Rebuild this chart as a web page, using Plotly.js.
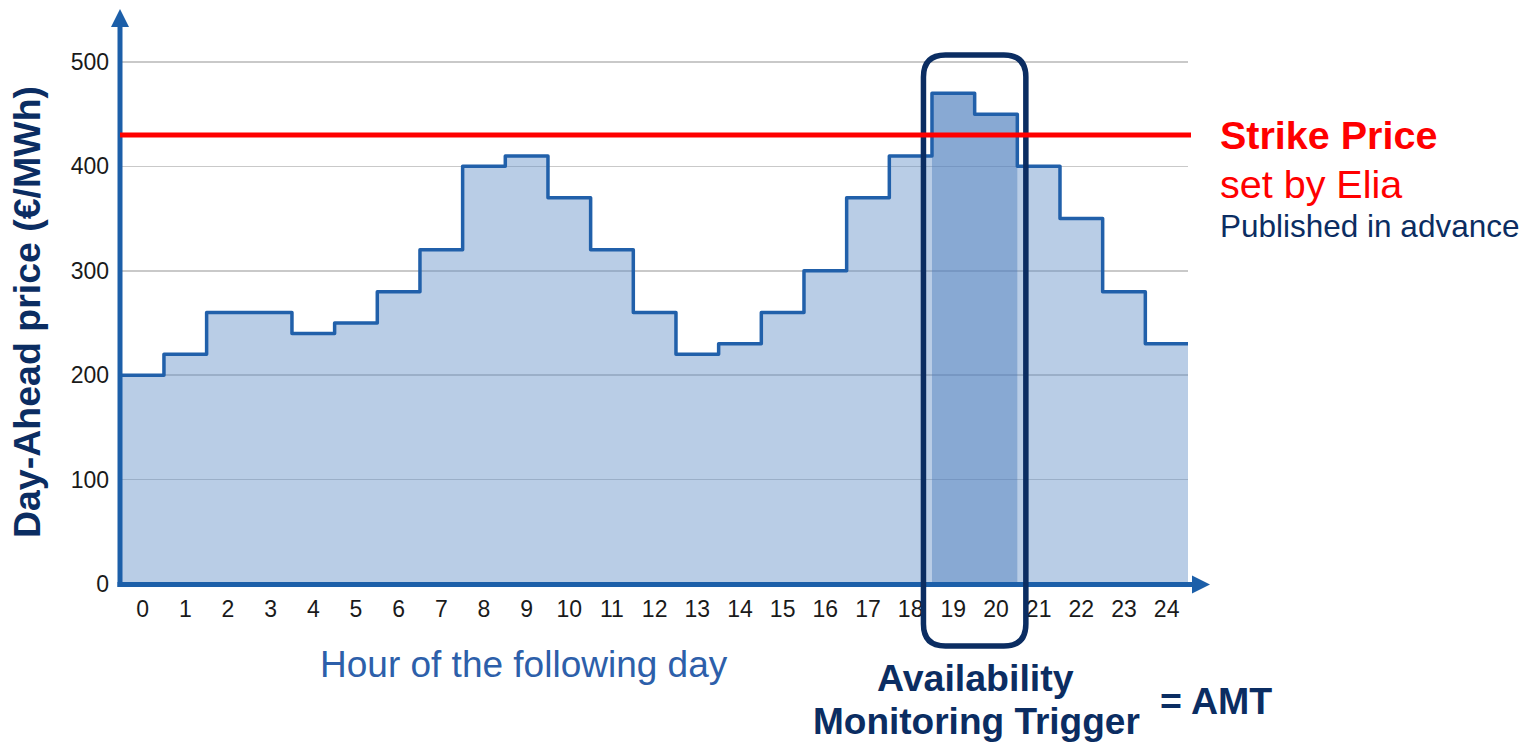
<!DOCTYPE html>
<html>
<head>
<meta charset="utf-8">
<script src="https://cdn.plot.ly/plotly-3.0.1.min.js"></script>
<style>
html,body{margin:0;padding:0;background:#fff;}
#chart{width:1523px;height:745px;}
.js-line{stroke-linejoin:round;}
</style>
</head>
<body>
<div id="chart"></div>
<script>
// ---- data ----
const hours = [0,1,2,3,4,5,6,7,8,9,10,11,12,13,14,15,16,17,18,19,20,21,22,23,24];
const prices = [200,220,260,260,240,250,280,320,400,410,370,320,260,220,230,260,300,370,410,470,450,400,350,280,230];
const tickLabels = ["0","1","2","3","4","5","6","7","8","9","10","11","12","13","14","15","16","17","18","19","20","21","22","23","24"];
const yTicks = [0,100,200,300,400,500];
const strikePrice = 430;
const amtHours = [19,20];

// ---- styling ----
const NAVY = '#0b2d62';
const AXIS_BLUE = '#1c5fa9';
const LINE_BLUE = '#2160aa';
const FONT = 'Liberation Sans, Arial, sans-serif';

const W = 1523, H = 745;
const M = {l:120, r:335, t:40, b:161};
const plotW = W - M.l - M.r, plotH = H - M.t - M.b;
const xRange = [-0.53, 24.5];
const yRange = [0, 521];

// pixel -> paper helpers for decorations
const pX = p => (p - M.l) / plotW;
const pY = p => (H - M.b - p) / plotH;
const dX = x => (x - xRange[0]) / (xRange[1] - xRange[0]);

// step traces built from data
const stepX = hours.map(h => h - 0.5).concat([hours[hours.length-1] + 0.5]);
const stepY = prices.concat([prices[prices.length-1]]);
const amtX = amtHours.map(h => h - 0.5).concat([amtHours[amtHours.length-1] + 0.5]);
const amtY = amtHours.map(h => prices[hours.indexOf(h)]).concat([prices[hours.indexOf(amtHours[amtHours.length-1])]]);

const traces = [
  {x: stepX, y: stepY, type:'scatter', mode:'lines', line:{shape:'hv', width:0, color:'rgba(0,0,0,0)'},
   fill:'tozeroy', fillcolor:'rgba(100,145,200,0.45)', hoverinfo:'skip', showlegend:false},
  {x: amtX, y: amtY, type:'scatter', mode:'lines', line:{shape:'hv', width:0, color:'rgba(0,0,0,0)'},
   fill:'tozeroy', fillcolor:'rgba(70,120,185,0.42)', hoverinfo:'skip', showlegend:false},
  {x: stepX, y: stepY, type:'scatter', mode:'lines', line:{shape:'hv', width:3.5, color:LINE_BLUE},
   showlegend:false, name:'Day-Ahead price'}
];

// rounded rectangle around AMT hours
const rL = dX(amtHours[0] - 0.7), rR = dX(amtHours[amtHours.length-1] + 0.7);
const rT = pY(55), rB = pY(646);
const rx = 22 / plotW, ry = 22 / plotH;
const rectPath = `M ${rL},${rT-ry} L ${rL},${rB+ry} Q ${rL},${rB} ${rL+rx},${rB} L ${rR-rx},${rB} Q ${rR},${rB} ${rR},${rB+ry} L ${rR},${rT-ry} Q ${rR},${rT} ${rR-rx},${rT} L ${rL+rx},${rT} Q ${rL},${rT} ${rL},${rT-ry} Z`;

const shapes = [
  // y axis with arrow
  {type:'line', xref:'paper', yref:'paper', x0:pX(120), x1:pX(120), y0:pY(587), y1:pY(25), line:{color:AXIS_BLUE, width:5}, layer:'above'},
  {type:'path', xref:'paper', yref:'paper', path:`M ${pX(111)},${pY(27)} L ${pX(120)},${pY(9)} L ${pX(129)},${pY(27)} Z`, fillcolor:AXIS_BLUE, line:{width:0}, layer:'above'},
  // x axis with arrow
  {type:'line', xref:'paper', yref:'paper', x0:pX(117.5), x1:pX(1194), y0:pY(584.5), y1:pY(584.5), line:{color:AXIS_BLUE, width:5}, layer:'above'},
  {type:'path', xref:'paper', yref:'paper', path:`M ${pX(1192)},${pY(575.5)} L ${pX(1210)},${pY(584.5)} L ${pX(1192)},${pY(593.5)} Z`, fillcolor:AXIS_BLUE, line:{width:0}, layer:'above'},
  // AMT rounded rectangle
  {type:'path', xref:'paper', yref:'paper', path:rectPath, line:{color:NAVY, width:5.5}, fillcolor:'rgba(0,0,0,0)', layer:'above'},
  // strike price line
  {type:'line', xref:'paper', yref:'y', x0:pX(120), x1:pX(1191), y0:strikePrice, y1:strikePrice, line:{color:'#ff0000', width:5}, layer:'above'}
];

const annotations = [
  {xref:'paper', yref:'paper', x:pX(524), y:pY(664), text:'Hour of the following day', showarrow:false,
   xanchor:'center', yanchor:'middle', font:{family:FONT, size:37, color:'#2d5faa'}},
  {xref:'paper', yref:'paper', x:pX(1218), y:pY(134.5), text:'<b>Strike Price</b>', showarrow:false,
   xanchor:'left', yanchor:'middle', font:{family:FONT, size:39.5, color:'#ff0000'}},
  {xref:'paper', yref:'paper', x:pX(1218), y:pY(184), text:'set by Elia', showarrow:false,
   xanchor:'left', yanchor:'middle', font:{family:FONT, size:39.5, color:'#ff0000'}},
  {xref:'paper', yref:'paper', x:pX(1218), y:pY(226), text:'Published in advance', showarrow:false,
   xanchor:'left', yanchor:'middle', font:{family:FONT, size:31.5, color:NAVY}},
  {xref:'paper', yref:'paper', x:pX(975.5), y:pY(678), text:'<b>Availability</b>', showarrow:false,
   xanchor:'center', yanchor:'middle', font:{family:FONT, size:37.5, color:NAVY}},
  {xref:'paper', yref:'paper', x:pX(976.5), y:pY(721), text:'<b>Monitoring Trigger</b>', showarrow:false,
   xanchor:'center', yanchor:'middle', font:{family:FONT, size:37, color:NAVY}},
  {xref:'paper', yref:'paper', x:pX(1158), y:pY(701), text:'<b>= AMT</b>', showarrow:false,
   xanchor:'left', yanchor:'middle', font:{family:FONT, size:37.5, color:NAVY}}
];

const layout = {
  width: W, height: H,
  margin: M,
  paper_bgcolor:'#ffffff', plot_bgcolor:'#ffffff',
  showlegend:false,
  font:{family:FONT, color:'#1a1a1a'},
  xaxis:{
    range:xRange, tickmode:'array', tickvals:hours, ticktext:tickLabels,
    showgrid:false, zeroline:false, showline:false, ticks:'',
    tickfont:{family:FONT, size:23, color:'#1a1a1a'}, ticklabelstandoff:9, fixedrange:true
  },
  yaxis:{
    range:yRange, tickmode:'array', tickvals:yTicks, ticktext:yTicks.map(String),
    showgrid:true, gridcolor:'#c9c9c9', gridwidth:1.5, zeroline:false, showline:false, ticks:'',
    tickfont:{family:FONT, size:23, color:'#1a1a1a'}, ticklabelstandoff:10, fixedrange:true,
    title:{text:'<b>Day-Ahead price (€/MWh)</b>', font:{family:FONT, size:37.5, color:NAVY}, standoff:18}
  },
  shapes: shapes,
  annotations: annotations
};

Plotly.newPlot('chart', traces, layout, {staticPlot:true, displayModeBar:false});
</script>
</body>
</html>
